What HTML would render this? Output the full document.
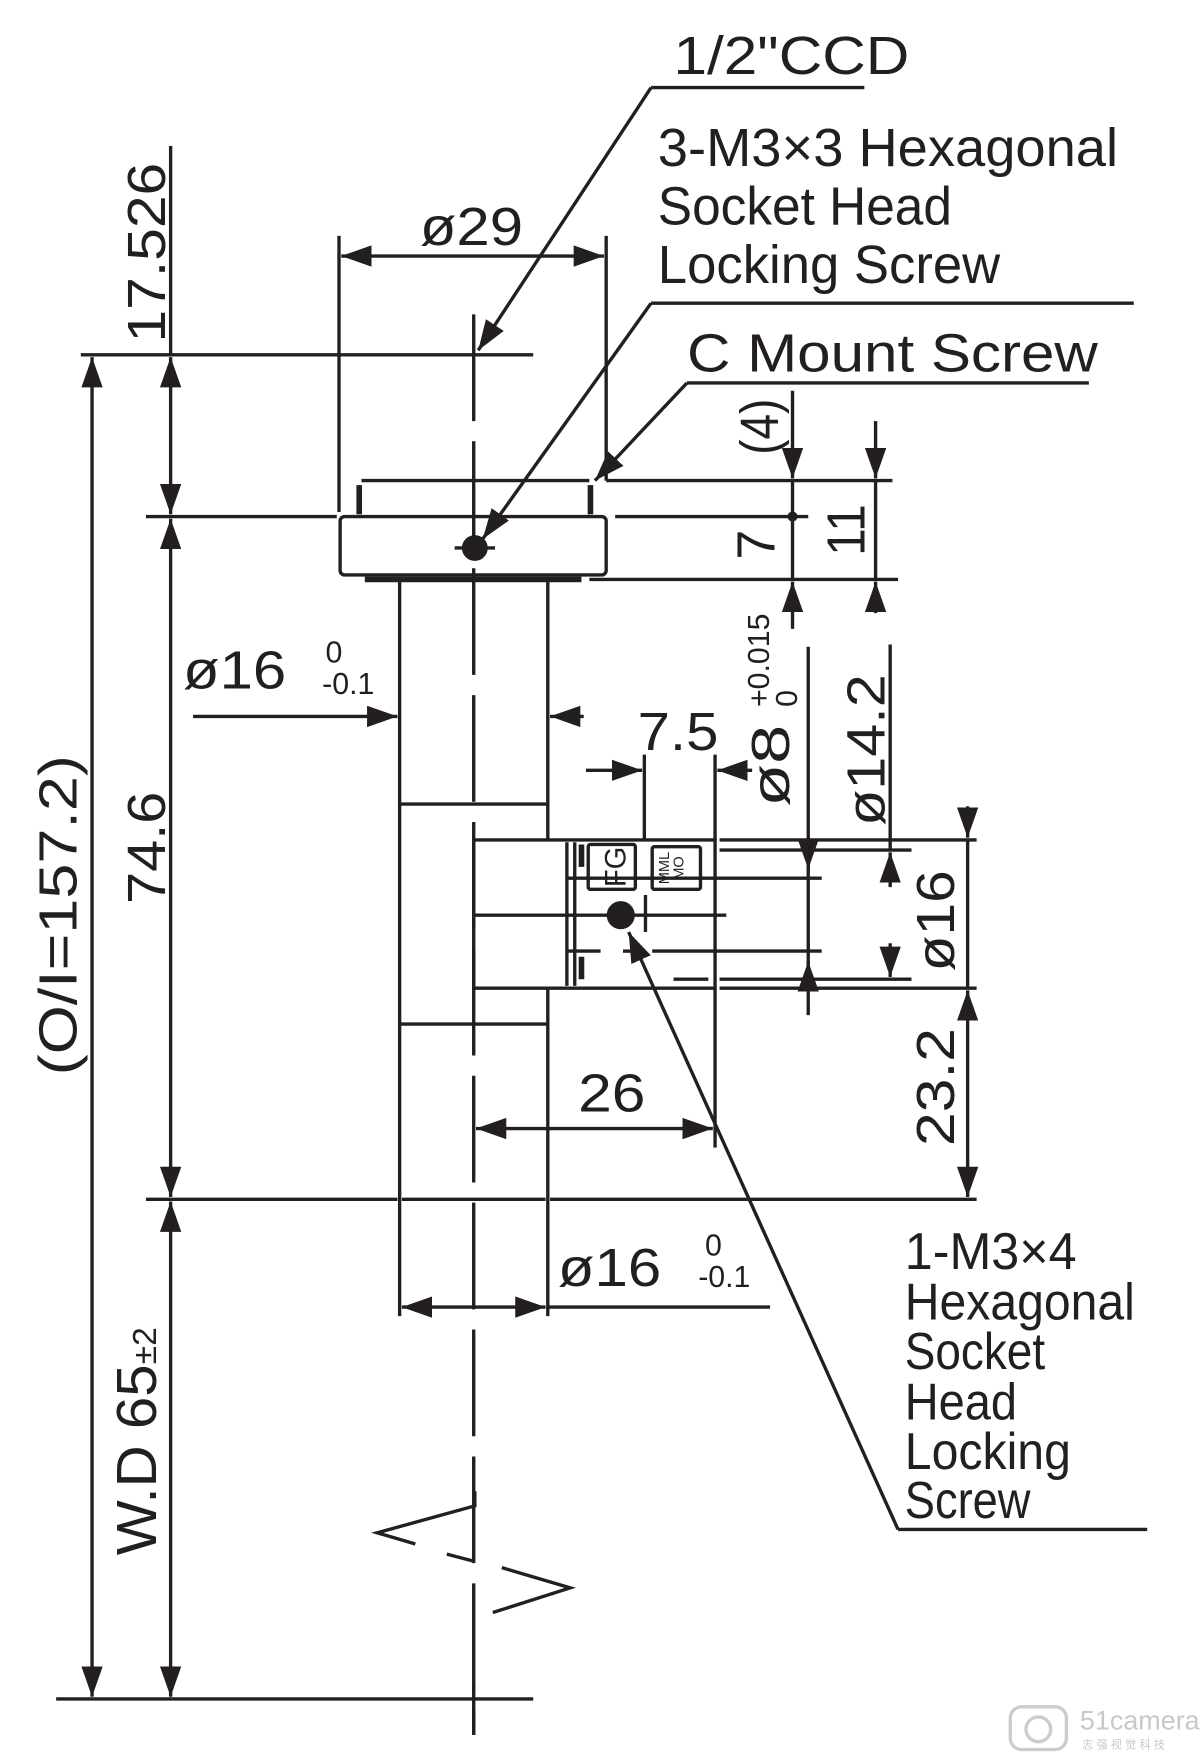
<!DOCTYPE html>
<html><head><meta charset="utf-8"><style>
html,body{margin:0;padding:0;background:#fff;}
svg{display:block;}
text{font-family:"Liberation Sans",sans-serif;fill:#231f20;}
</style></head><body>
<svg width="1200" height="1763" viewBox="0 0 1069 1570" preserveAspectRatio="none" xmlns="http://www.w3.org/2000/svg">
<defs>
<marker id="a" markerUnits="userSpaceOnUse" markerWidth="30" markerHeight="20" refX="27" refY="9.5" orient="auto-start-reverse">
<path d="M0,0 L27,9.5 L0,19 z" fill="#231f20"/>
</marker>
</defs>
<g stroke="#231f20" stroke-width="3" fill="none">
<line x1="422" y1="280" x2="422" y2="1545" stroke-dasharray="95 18"/>
<line x1="152" y1="130" x2="152" y2="316"/>
<line x1="72" y1="316" x2="475" y2="316"/>
<line x1="130" y1="460" x2="300" y2="460"/>
<line x1="130" y1="1068" x2="354" y2="1068"/>
<line x1="358" y1="1068" x2="486" y2="1068"/>
<line x1="490" y1="1068" x2="870" y2="1068"/>
<line x1="50" y1="1513" x2="475" y2="1513"/>
<line x1="422" y1="1500" x2="422" y2="1545"/>
<path d="M82,318 L82,1511" marker-start="url(#a)" marker-end="url(#a)"/>
<path d="M152,318 L152,458" marker-start="url(#a)" marker-end="url(#a)"/>
<path d="M152,462 L152,1066" marker-start="url(#a)" marker-end="url(#a)"/>
<path d="M152,1070 L152,1511" marker-start="url(#a)" marker-end="url(#a)"/>
<line x1="302" y1="210" x2="302" y2="456"/>
<line x1="540" y1="210" x2="540" y2="428"/>
<path d="M304,228 L538,228" marker-start="url(#a)" marker-end="url(#a)"/>
<path d="M322,428 L525,428"/>
<path d="M320,432 L320,458" stroke-width="5"/>
<path d="M526,432 L526,458" stroke-width="5"/>
<rect x="303" y="460" width="237" height="52" rx="4"/>
<line x1="325" y1="516" x2="518" y2="516" stroke-width="5"/>
<line x1="540" y1="428" x2="795" y2="428"/>
<line x1="548" y1="460" x2="720" y2="460"/>
<line x1="525" y1="516" x2="800" y2="516"/>
<circle cx="423" cy="488" r="10" fill="#231f20"/>
<line x1="405" y1="488" x2="441" y2="488"/>
<line x1="356" y1="516" x2="356" y2="1172"/>
<line x1="488" y1="516" x2="488" y2="748"/>
<line x1="488" y1="880" x2="488" y2="1172"/>
<line x1="356" y1="716" x2="488" y2="716"/>
<line x1="356" y1="912" x2="488" y2="912"/>
<path d="M172,638 L354,638" marker-end="url(#a)"/>
<path d="M520,638 L490,638" marker-end="url(#a)"/>
<rect x="422" y="748" width="215" height="132"/>
<line x1="641" y1="748" x2="870" y2="748"/>
<line x1="641" y1="880" x2="870" y2="880"/>
<line x1="505" y1="750" x2="505" y2="878"/>
<line x1="512" y1="750" x2="512" y2="878"/>
<path d="M518,752 L518,878" stroke-width="5" stroke-dasharray="20 80"/>
<rect x="524" y="752" width="42" height="40" rx="2"/>
<rect x="581" y="754" width="43" height="38" rx="2"/>
<line x1="505" y1="782" x2="732" y2="782"/>
<line x1="422" y1="815" x2="647" y2="815"/>
<line x1="581" y1="847" x2="732" y2="847"/>
<line x1="505" y1="847" x2="535" y2="847"/>
<line x1="555" y1="847" x2="565" y2="847"/>
<line x1="600" y1="872" x2="631" y2="872"/>
<line x1="641" y1="757" x2="812" y2="757"/>
<line x1="641" y1="872" x2="812" y2="872"/>
<line x1="575" y1="797" x2="575" y2="830"/>
<circle cx="553" cy="815" r="11" fill="#231f20"/>
<line x1="574" y1="672" x2="574" y2="748"/>
<line x1="637" y1="672" x2="637" y2="748"/>
<line x1="637" y1="880" x2="637" y2="1022"/>
<path d="M522,686 L572,686" marker-end="url(#a)"/>
<path d="M670,686 L639,686" marker-end="url(#a)"/>
<line x1="720" y1="576" x2="720" y2="904"/>
<path d="M720,748 L720,774" marker-end="url(#a)"/>
<path d="M720,880 L720,856" marker-end="url(#a)"/>
<path d="M793,574 L793,757" />
<path d="M793,790 L793,759" marker-end="url(#a)"/>
<path d="M793,840 L793,870" marker-end="url(#a)"/>
<path d="M862,718 L862,746" marker-end="url(#a)"/>
<line x1="862" y1="748" x2="862" y2="880"/>
<path d="M862,882 L862,1066" marker-start="url(#a)" marker-end="url(#a)"/>
<path d="M706,348 L706,426" marker-end="url(#a)"/>
<line x1="706" y1="428" x2="706" y2="516"/>
<path d="M706,560 L706,518" marker-end="url(#a)"/>
<circle cx="706" cy="460" r="3" fill="#231f20"/>
<path d="M780,375 L780,426" marker-end="url(#a)"/>
<line x1="780" y1="428" x2="780" y2="516"/>
<path d="M780,546 L780,518" marker-end="url(#a)"/>
<path d="M424,1005 L635,1005" marker-start="url(#a)" marker-end="url(#a)"/>
<path d="M358,1164 L486,1164" marker-start="url(#a)" marker-end="url(#a)"/>
<line x1="488" y1="1164" x2="686" y2="1164"/>
<line x1="580" y1="78" x2="770" y2="78"/>
<path d="M580,78 L426,312" marker-end="url(#a)"/>
<line x1="580" y1="270" x2="1010" y2="270"/>
<path d="M580,270 L430,480" marker-end="url(#a)"/>
<line x1="612" y1="341" x2="970" y2="341"/>
<path d="M612,341 L530,428" marker-end="url(#a)"/>
<path d="M800,1362 L560,830" marker-end="url(#a)"/>
<line x1="800" y1="1362" x2="1022" y2="1362"/>
<polyline points="423,1328 423,1341 336,1365 370,1375"/>
<line x1="398" y1="1384" x2="421" y2="1390"/>
<polyline points="447,1396 508,1414 439,1436"/>
</g>
<g font-size="48">
<text x="600" y="66" textLength="210" lengthAdjust="spacingAndGlyphs">1/2"CCD</text>
<text x="586" y="148" textLength="410" lengthAdjust="spacingAndGlyphs">3-M3×3 Hexagonal</text>
<text x="586" y="200" textLength="262" lengthAdjust="spacingAndGlyphs">Socket Head</text>
<text x="586" y="252" textLength="305" lengthAdjust="spacingAndGlyphs">Locking Screw</text>
<text x="612" y="331" textLength="366" lengthAdjust="spacingAndGlyphs">C Mount Screw</text>
<text x="374" y="218" textLength="92" lengthAdjust="spacingAndGlyphs">ø29</text>
<text transform="translate(147,225) rotate(-90)" text-anchor="middle" textLength="160" lengthAdjust="spacingAndGlyphs">17.526</text>
<text transform="translate(68,815) rotate(-90)" text-anchor="middle" textLength="285" lengthAdjust="spacingAndGlyphs">(O/I=157.2)</text>
<text transform="translate(147,755) rotate(-90)" text-anchor="middle" textLength="100" lengthAdjust="spacingAndGlyphs">74.6</text>
<text transform="translate(139,1385) rotate(-90)" font-size="50"><tspan textLength="170" lengthAdjust="spacingAndGlyphs">W.D 65</tspan><tspan font-size="30">±2</tspan></text>
<text x="163" y="613" textLength="92" lengthAdjust="spacingAndGlyphs">ø16</text>
<text x="568" y="668" textLength="72" lengthAdjust="spacingAndGlyphs">7.5</text>
<text transform="translate(703,682) rotate(-90)" text-anchor="middle" textLength="73" lengthAdjust="spacingAndGlyphs">ø8</text>
<text transform="translate(788,668) rotate(-90)" text-anchor="middle" textLength="135" lengthAdjust="spacingAndGlyphs">ø14.2</text>
<text transform="translate(693,380) rotate(-90)" text-anchor="middle" textLength="50" lengthAdjust="spacingAndGlyphs">(4)</text>
<text transform="translate(690,485) rotate(-90)" text-anchor="middle">7</text>
<text transform="translate(770,472) rotate(-90)" text-anchor="middle" textLength="46" lengthAdjust="spacingAndGlyphs">11</text>
<text transform="translate(850,820) rotate(-90)" text-anchor="middle" textLength="90" lengthAdjust="spacingAndGlyphs">ø16</text>
<text transform="translate(850,968) rotate(-90)" text-anchor="middle" textLength="105" lengthAdjust="spacingAndGlyphs">23.2</text>
<text x="515" y="990" textLength="60" lengthAdjust="spacingAndGlyphs">26</text>
<text x="497" y="1145" textLength="92" lengthAdjust="spacingAndGlyphs">ø16</text>
</g>
<g font-size="27">
<text x="290" y="590">0</text>
<text x="287" y="618">-0.1</text>
<text x="628" y="1118">0</text>
<text x="622" y="1146">-0.1</text>
<text transform="translate(685,588) rotate(-90)" text-anchor="middle">+0.015</text>
<text transform="translate(710,622) rotate(-90)" text-anchor="middle">0</text>
</g>
<text transform="translate(557,772) rotate(-90)" text-anchor="middle" font-size="26">FG</text>
<text transform="translate(596,773) rotate(-90)" text-anchor="middle" font-size="13">MML</text>
<text transform="translate(609,773) rotate(-90)" text-anchor="middle" font-size="13">MO</text>
<g font-size="46">
<text x="806" y="1130" textLength="153" lengthAdjust="spacingAndGlyphs">1-M3×4</text>
<text x="806" y="1175" textLength="205" lengthAdjust="spacingAndGlyphs">Hexagonal</text>
<text x="806" y="1219" textLength="125" lengthAdjust="spacingAndGlyphs">Socket</text>
<text x="806" y="1264" textLength="100" lengthAdjust="spacingAndGlyphs">Head</text>
<text x="806" y="1308" textLength="148" lengthAdjust="spacingAndGlyphs">Locking</text>
<text x="806" y="1352" textLength="112" lengthAdjust="spacingAndGlyphs">Screw</text>
</g>
<g fill="none" stroke="#ccc" stroke-width="3">
<rect x="900" y="1520" width="50" height="38" rx="10"/>
<circle cx="925" cy="1540" r="11"/>
</g>
<text x="962" y="1540" font-size="24" style="fill:#c8c8c8">51camera</text>
<text x="964" y="1557" font-size="10" style="fill:#c8c8c8;font-family:'Liberation Sans','Noto Sans CJK SC',sans-serif">志 强 视 觉 科 技</text>
</svg>
</body></html>
